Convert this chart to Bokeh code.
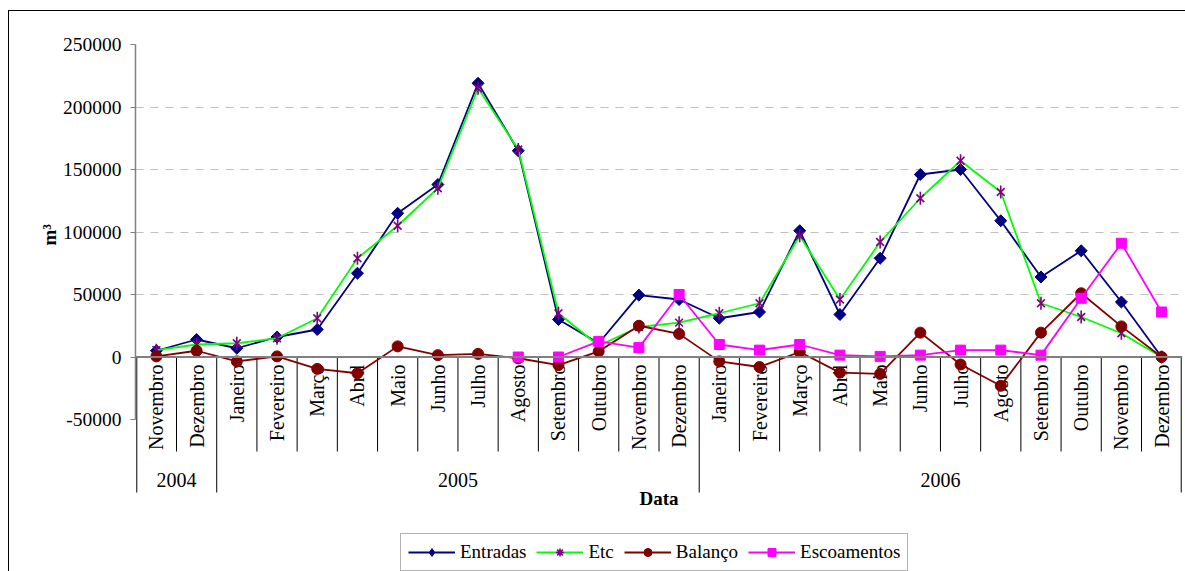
import math

from bokeh.core.properties import value
from bokeh.embed import file_html
from bokeh.models import (ColumnDataSource, FixedTicker, Legend, LegendItem,
                          NumeralTickFormatter, Range1d, Span, Title)
from bokeh.plotting import figure
from bokeh.resources import INLINE

nan = float("nan")

# Monthly categories (Nov 2004 - Dez 2006)
months = ["Novembro", "Dezembro",
          "Janeiro", "Fevereiro", "Março", "Abril", "Maio", "Junho",
          "Julho", "Agosto", "Setembro", "Outubro", "Novembro", "Dezembro",
          "Janeiro", "Fevereiro", "Março", "Abril", "Maio", "Junho",
          "Julho", "Agosto", "Setembro", "Outubro", "Novembro", "Dezembro"]
years = ["2004", "2005", "2006"]
year_lengths = [2, 12, 12]

# Water balance series, m3
entradas = [5000, 14000, 7000, 16000, 22000, 67000, 115000, 138000, 219000,
            165000, 30000, 11000, 49500, 46000, 31000, 36000, 101000, 34000,
            79000, 146000, 150000, 109000, 64000, 85000, 44000, 0]
etc = [5500, 10000, 11000, 15000, 31000, 79000, 105000, 135000, 215000,
       166000, 35000, 9000, 24000, 27500, 35000, 43000, 97000, 46000,
       92000, 127000, 157000, 132000, 43000, 32000, 19000, 0]
balanco = [500, 5000, -3500, 500, -9500, -13000, 8500, 1500, 2500,
           -1000, -6500, 4500, 25000, 18500, -3500, -8000, 4000, -12500,
           -13500, 19500, -6000, -23000, 19500, 51000, 24500, 0]
escoamentos = [nan, nan, nan, nan, nan, nan, nan, nan, nan,
               0, 0, 12500, 7500, 50000, 10000, 5500, 10000, 1500,
               500, 1500, 5500, 5500, 1500, 47000, 91000, 36000]

y_ticks = [-50000, 0, 50000, 100000, 150000, 200000, 250000]

FONT = "Liberation Serif"
UNITS_PER_PX = 800.0        # m3 per pixel on the value axis
TOP_VALUE = 250000
FIG_W, FIG_H = 1177, 561
OFF_X, OFF_Y = 10, 12       # page position of the figure's canvas
FRAME_TOP_PAGE = 45


def val(py):
    """Value shown at a given page row."""
    return TOP_VALUE - (py - FRAME_TOP_PAGE) * UNITS_PER_PX


n = len(months)
xs = [i + 0.5 for i in range(n)]
src = ColumnDataSource(dict(x=xs, entradas=entradas, etc=etc,
                            balanco=balanco, escoamentos=escoamentos))

p = figure(width=FIG_W, height=FIG_H, output_backend="svg", toolbar_location=None,
           x_range=Range1d(-0.02, n + 0.02),
           y_range=Range1d(val(OFF_Y + FIG_H), TOP_VALUE),
           x_axis_location=None,
           min_border_left=136 - OFF_X, min_border_right=OFF_X + FIG_W - 1183,
           min_border_top=FRAME_TOP_PAGE - OFF_Y, min_border_bottom=0)
p.margin = (10, 0, 0, 8)
p.styles = {"border-top": "1px solid #000000", "border-left": "1px solid #000000"}
p.outline_line_color = None
p.background_fill_color = "white"
p.border_fill_color = "white"

# value axis
yax = p.yaxis[0]
yax.ticker = FixedTicker(ticks=y_ticks)
yax.bounds = (-50000, 250000)
yax.formatter = NumeralTickFormatter(format="0")
yax.major_label_text_font = FONT
yax.major_label_text_font_size = "19.5px"
yax.major_label_text_color = "black"
yax.axis_line_color = "#808080"
yax.axis_line_width = 1.5
yax.major_tick_line_color = "#808080"
yax.major_tick_out = 5
yax.major_tick_in = 0
yax.minor_tick_line_color = None
yax.major_label_standoff = 9

# "m³" title on the left side, lifted to the middle of the value range
p.add_layout(Title(text="m³", align="left", offset=(OFF_Y + FIG_H) - 246,
                   text_font=FONT, text_font_style="bold",
                   text_font_size="19px", text_color="black",
                   standoff=0), "left")

p.xgrid.visible = False
p.ygrid.ticker = FixedTicker(ticks=[50000, 100000, 150000, 200000, 250000])
p.ygrid.grid_line_color = "#C0C0C0"
p.ygrid.grid_line_dash = "8 7"
p.ygrid.grid_line_width = 1

# category axis crossing at zero, with month and year rows
p.add_layout(Span(location=0, dimension="width", line_color="#808080",
                  line_width=2))

year_edges = [0]
for L in year_lengths:
    year_edges.append(year_edges[-1] + L)
inner = [k for k in range(1, n) if k not in year_edges]
p.segment(x0=inner, y0=[0] * len(inner), x1=inner,
          y1=[val(452)] * len(inner), line_color="black", line_width=1)
edge_x = [e + (0.012 if e == 0 else (-0.012 if e == n else 0)) for e in year_edges]
p.segment(x0=edge_x, y0=[0] * len(edge_x), x1=edge_x,
          y1=[val(493)] * len(edge_x), line_color="black", line_width=1)

p.text(x=xs, y=[val(365)] * n, text=months, angle=math.pi / 2,
       text_align="right", text_baseline="middle",
       text_font=value(FONT), text_font_size="20px", text_color="black")

year_x = [(year_edges[i] + year_edges[i + 1]) / 2 for i in range(len(years))]
p.text(x=year_x, y=[val(480)] * len(years), text=years,
       text_align="center", text_baseline="middle",
       text_font=value(FONT), text_font_size="20px", text_color="black")

p.text(x=[n / 2], y=[val(499)], text=["Data"],
       text_align="center", text_baseline="middle",
       text_font=value(FONT), text_font_style="bold",
       text_font_size="19px", text_color="black")

# series
NAVY, LIME, PURPLE, MAROON, MAGENTA = "#000080", "#00FF00", "#800080", "#800000", "#FF00FF"
OFF = dict(x=[-50], y=[0])   # key-only markers sit far outside the frame

l1 = p.line("x", "entradas", source=src, line_color=NAVY, line_width=1.8)
m1 = p.scatter("x", "entradas", source=src, marker="square", angle=math.pi / 4,
               size=8.5, fill_color=NAVY, line_color=NAVY)
key1 = p.scatter(marker="diamond", size=14, fill_color=NAVY, line_color=NAVY,
                 source=ColumnDataSource(OFF))

l2 = p.line("x", "etc", source=src, line_color=LIME, line_width=1.8)
m2a = p.scatter("x", "etc", source=src, marker="x", size=11,
                line_color=PURPLE, line_width=1.6)
m2b = p.scatter("x", "etc", source=src, marker="dash", angle=math.pi / 2,
                size=13, line_color=PURPLE, line_width=1.6)
key2 = p.scatter(marker="asterisk", size=12, line_color=PURPLE, line_width=1.6,
                 source=ColumnDataSource(OFF))

l3 = p.line("x", "balanco", source=src, line_color=MAROON, line_width=1.8)
m3 = p.scatter("x", "balanco", source=src, marker="circle", size=11,
               fill_color=MAROON, line_color=MAROON)

l4 = p.line("x", "escoamentos", source=src, line_color=MAGENTA, line_width=1.8)
m4 = p.scatter("x", "escoamentos", source=src, marker="square", size=10,
               fill_color=MAGENTA, line_color=MAGENTA)

legend = Legend(items=[
    LegendItem(label="Entradas", renderers=[l1, key1]),
    LegendItem(label="Etc", renderers=[l2, key2]),
    LegendItem(label="Balanço", renderers=[l3, m3]),
    LegendItem(label="Escoamentos", renderers=[l4, m4]),
], orientation="horizontal", location=(401 - 136, 1))
legend.label_text_font = FONT
legend.label_text_font_size = "19px"
legend.label_text_color = "black"
legend.glyph_width = 47
legend.glyph_height = 20
legend.label_standoff = 5
legend.spacing = 10
legend.padding = 7
legend.margin = 0
legend.border_line_color = "#666666"
legend.border_line_width = 1
legend.background_fill_color = "white"
legend.background_fill_alpha = 1
p.add_layout(legend)

open("out.html", "w").write(file_html(p, INLINE))
